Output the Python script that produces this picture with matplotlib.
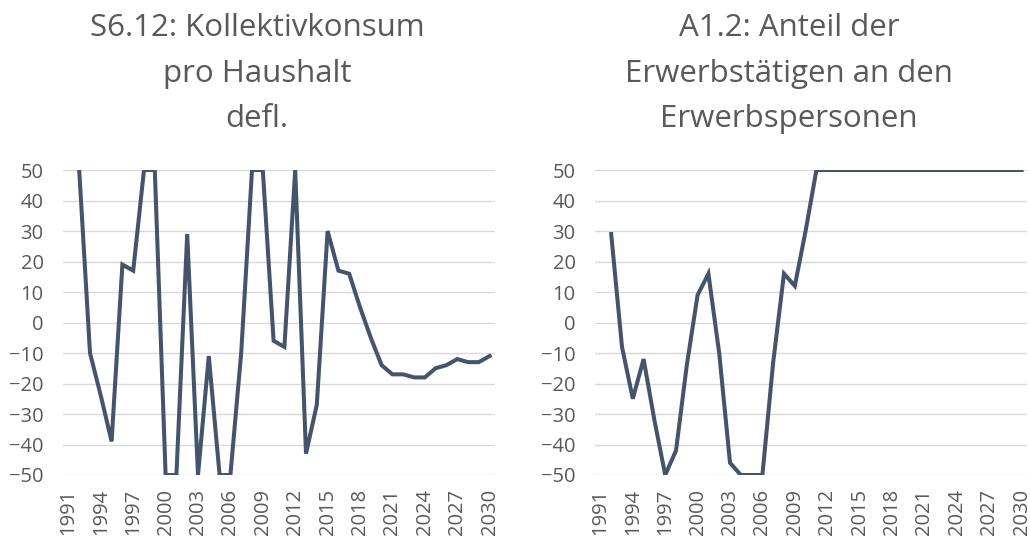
import numpy as np
import matplotlib
matplotlib.use("Agg")
import matplotlib.pyplot as plt

plt.rcParams['font.family'] = ['Open Sans', 'DejaVu Sans']

# Data (values clamped to the axis range of +-50)
years = list(range(1991, 2031))
kollektivkonsum = [np.nan, 50, -10, -24, -39, 19, 17, 50, 50, -50,
                   -50, 29, -50, -11, -50, -50, -10, 50, 50, -6,
                   -8, 50, -43, -27, 30, 17, 16, 5, -5, -14,
                   -17, -17, -18, -18, -15, -14, -12, -13, -13, -11]
erwerbstaetige = [np.nan, 29, -8, -25, -12, -32, -50, -42, -14, 9,
                  16, -10, -46, -50, -50, -50, -13, 16, 12, 30,
                  50, 50, 50, 50, 50, 50, 50, 50, 50, 50,
                  50, 50, 50, 50, 50, 50, 50, 50, 50, 50]

titles = ["S6.12: Kollektivkonsum\npro Haushalt\ndefl.",
          "A1.2: Anteil der\nErwerbstätigen an den\nErwerbspersonen"]

line_color = '#44546A'
text_color = '#595959'
grid_color = '#D9D9D9'

fig = plt.figure(figsize=(10.3, 5.39), dpi=100)

x = np.arange(len(years))
panels = [
    (63, kollektivkonsum, titles[0], 257),
    (595, erwerbstaetige, titles[1], 789),
]

for left_px, values, title, title_x in panels:
    ax = fig.add_axes([left_px / 1030, 1 - 475 / 539, 432 / 1030, 305 / 539])
    ax.plot(x, values, color=line_color, linewidth=2.9, solid_joinstyle='miter')
    ax.set_xlim(-0.5, len(years) - 0.5)
    ax.set_ylim(-50, 50)
    ax.set_yticks(range(-50, 51, 10))
    ax.set_xticks(x[::3])
    ax.set_xticklabels([str(y) for y in years[::3]], rotation=90)
    ax.grid(axis='y', color=grid_color, linewidth=1)
    ax.set_axisbelow(True)
    for s in ax.spines.values():
        s.set_visible(False)
    ax.tick_params(axis='both', length=0, labelsize=14.5, labelcolor=text_color)
    ax.tick_params(axis='y', pad=14)
    ax.tick_params(axis='x', pad=10)
    fig.text(title_x / 1030, 1 - 13 / 539, title, ha='center', va='top',
             fontsize=22.5, color=text_color, linespacing=1.68)

fig.savefig('out.png', dpi=100)
